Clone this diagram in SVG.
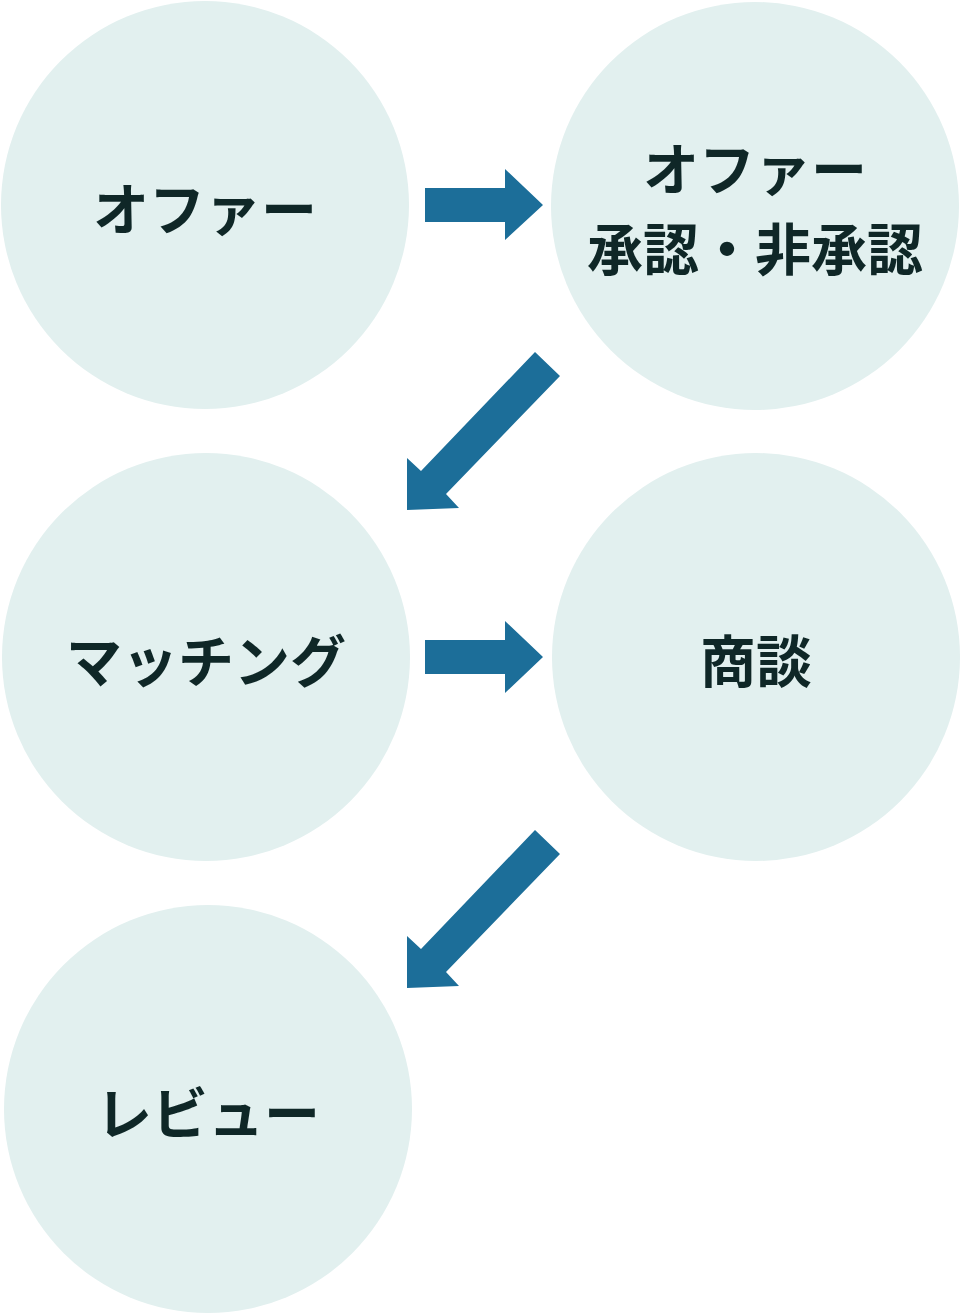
<svg xmlns="http://www.w3.org/2000/svg" width="961" height="1314" viewBox="0 0 961 1314">
<style>
.n{fill:#e2f0ef}
.t{font-family:"Noto Sans CJK JP",sans-serif;font-weight:bold;font-size:56px;fill:#0f2727;text-anchor:middle;dominant-baseline:central}
.a{fill:#1c6e99}
</style>
<rect width="961" height="1314" fill="#fff"/>
<g id="n1"><circle class="n" cx="205" cy="205" r="204"/><text class="t" x="205" y="205">オファー</text></g>
<g id="n2"><circle class="n" cx="755" cy="206" r="204"/><text class="t" x="755" y="165">オファー</text><text class="t" x="755" y="245">承認・非承認</text></g>
<g id="n3"><circle class="n" cx="206" cy="657" r="204"/><text class="t" x="206" y="657">マッチング</text></g>
<g id="n4"><circle class="n" cx="756" cy="657" r="204"/><text class="t" x="756" y="657">商談</text></g>
<g id="n5"><circle class="n" cx="208" cy="1109" r="204"/><text class="t" x="208" y="1109">レビュー</text></g>
<g id="connectors">
<polygon class="a" points="425,188 505,188 505,169 543,205 505,240 505,222 425,222"/>
<polygon class="a" points="425,640 505,640 505,621 543,657 505,693 505,674 425,674"/>
<polygon class="a" points="535,352 560,376 446,494 459,508 407,510 407,458 421,471"/>
<polygon class="a" points="535,830 560,854 446,972 459,986 407,988 407,936 421,949"/>
</g>
</svg>
